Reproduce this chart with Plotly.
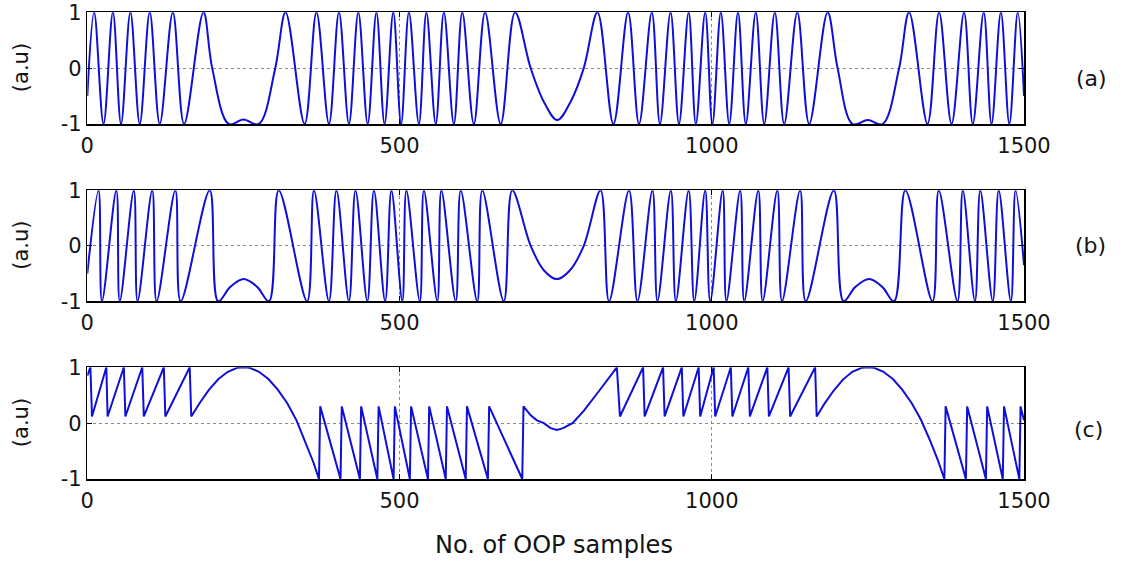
import plotly.graph_objects as go

# ---------------- data ----------------
# Panel (a): extrema / read points of the cosine-like signal
a_x = [0, 11, 26, 41, 54, 69, 84, 100, 116, 137, 155, 186, 200, 226.5, 250, 274.5, 301,
       317.5, 348, 367, 387, 403, 419, 434, 449, 463, 476, 490, 502.5, 515, 531, 543, 558,
       571, 587, 600.5, 619, 637, 662, 685, 710, 731, 752.5, 774, 795, 817, 842.5, 866, 883.5,
       904, 917, 934, 947.5, 963, 974.5, 989.5, 1001, 1014.5, 1028, 1042, 1054.5, 1070.5, 1084,
       1101, 1116, 1137, 1156, 1185.5, 1201.5, 1225.5, 1250, 1273.5, 1300, 1316, 1345.5,
       1364, 1384, 1404, 1418, 1435.5, 1448, 1463, 1476.5, 1490, 1500]
a_y = [-0.5, 1, -1, 1, -1, 1, -1, 1, -1, 1, -1, 1, 0, -1, -0.92, -1, 0,
       1, -1, 1, -1, 1, -1, 1, -1, 1, -1, 1, -1, 1, -1, 1, -1,
       1, -1, 1, -1, 1, -1, 1, 0, -0.6, -0.93, -0.6, 0, 1, -1, 1, -1,
       1, -1, 1, -1, 1, -1, 1, -1, 1, -1, 1, -1, 1, -1,
       1, -1, 1, -1, 1, 0, -1, -0.93, -1, 0, 1, -1,
       1, -1, 1, -1, 1, -1, 1, -1, 1, -0.5]

# Panel (b)
b_x = [0, 18, 23.5, 46.5, 52, 74.5, 80.5, 104, 111, 141, 149.5, 196, 209.5, 229, 250.5, 272,
       291, 306.5, 352, 363, 387, 399, 419, 429.5, 448.5, 459, 477, 487, 504.5, 511, 532.5,
       539, 560.5, 567, 590, 598, 624.5, 632.5, 667, 680.5, 710, 731, 752, 773, 795, 822,
       835.5, 867.5, 881, 905, 913, 934.5, 942.5, 963, 972, 989.5, 997.5, 1017.5, 1023.5,
       1045.5, 1052, 1074.5, 1081.5, 1105, 1112.5, 1141.5, 1150.5, 1195.5, 1211, 1230, 1252,
       1273, 1292, 1310, 1353.5, 1363.5, 1393.5, 1402, 1421.5, 1430, 1450, 1459.5, 1479,
       1486.5, 1500]
b_y = [-0.5, 1, -1, 1, -1, 1, -1, 1, -1, 1, -1, 1, -1, -0.74, -0.6, -0.74,
       -1, 1, -1, 1, -1, 1, -1, 1, -1, 1, -1, 1, -1, 1, -1,
       1, -1, 1, -1, 1, -1, 1, -1, 1, 0, -0.44, -0.6, -0.44, 0, 1,
       -1, 1, -1, 1, -1, 1, -1, 1, -1, 1, -1, 1, -1,
       1, -1, 1, -1, 1, -1, 1, -1, 1, -1, -0.74, -0.6,
       -0.74, -1, 1, -1, 1, -1, 1, -1, 1, -1, 1, -1,
       1, -0.35]

# Panel (c)
c_x = [0, 5, 7.5, 30.5, 32.5, 58.5, 61, 88, 90.5, 122.5, 125, 164, 166.5,
       180, 195, 210, 225, 240, 250, 260, 275, 290, 305, 320, 335, 350, 362, 371,
       373, 405.5, 407.5, 436.5, 438.5, 464.5, 466.5, 490.5, 492.5, 516.5, 518.5, 545.5,
       547.5, 574, 576, 606, 608, 641.5, 643.5, 696.5, 698.5,
       710, 720, 731, 742, 752, 762, 777, 795, 817, 835, 848,
       853, 890, 892.5, 922, 924.5, 952, 954.5, 979, 981.5, 1003, 1005.5, 1030.5, 1033,
       1058.5, 1061, 1089, 1091.5, 1123, 1125.5, 1165.5, 1168,
       1180, 1195, 1210, 1225, 1240, 1250, 1260, 1275, 1290, 1305, 1320, 1335, 1350, 1362,
       1372.5, 1374.5, 1407, 1409, 1439, 1441, 1466, 1468, 1492.5, 1494.5, 1500]
c_y = [0.85, 1, 0.12, 1, 0.12, 1, 0.12, 1, 0.12, 1, 0.12, 1, 0.12,
       0.36, 0.6, 0.79, 0.92, 0.99, 1.0, 0.99, 0.92, 0.79, 0.6, 0.36, 0.05, -0.35, -0.7, -1,
       0.3, -1, 0.3, -1, 0.3, -1, 0.3, -1, 0.3, -1, 0.3, -1,
       0.3, -1, 0.3, -1, 0.3, -1, 0.3, -1, 0.3,
       0.14, 0.05, 0.0, -0.09, -0.12, -0.09, 0.0, 0.22, 0.54, 0.8, 1.0,
       0.12, 1, 0.12, 1, 0.12, 1, 0.12, 1, 0.12, 1, 0.12, 1, 0.12,
       1, 0.12, 1, 0.12, 1, 0.12, 1, 0.12,
       0.34, 0.58, 0.78, 0.92, 0.99, 1.0, 0.99, 0.92, 0.79, 0.6, 0.36, 0.06, -0.32, -0.66,
       -1, 0.3, -1, 0.3, -1, 0.3, -1, 0.3, -1, 0.3, 0.05]

x_ticks = [0, 500, 1000, 1500]
x_tick_text = ["0", "500", "1000", "1500"]
y_ticks = [-1, 0, 1]
y_tick_text = ["-1", "0", "1"]
panel_labels = ["(a)", "(b)", "(c)"]
y_title = "(a.u)"
x_title = "No. of OOP samples"

# ---------------- figure ----------------
W, H = 1124, 562
LINE = "rgb(15,15,215)"
FONT = "DejaVu Sans, Arial, sans-serif"
TXT = "#141414"


def px_x(px):
    return px / W


def px_y(py):
    return 1 - py / H


x_dom = [px_x(87.3), px_x(1024)]
panels_px = [(12.3, 124), (190.3, 301.3), (367.3, 479)]
y_doms = [[px_y(b), px_y(t)] for t, b in panels_px]

fig = go.Figure()
series = [(a_x, a_y, "spline"), (b_x, b_y, "spline"), (c_x, c_y, "linear")]
for i, (xs, ys, shp) in enumerate(series):
    sfx = "" if i == 0 else str(i + 1)
    fig.add_trace(go.Scatter(x=xs, y=ys, mode="lines",
                             line=dict(color=LINE, width=2, shape=shp),
                             xaxis="x" + sfx, yaxis="y" + sfx, showlegend=False,
                             hoverinfo="skip"))

axis_common = dict(
    ticks="inside", ticklen=5, tickwidth=1, tickcolor="black",
    showline=True, linecolor="black", linewidth=1.5, mirror="ticks",
    showgrid=True, gridcolor="#8a8a8a", griddash="dot", gridwidth=1,
    zeroline=False, automargin=False, ticklabeloverflow="allow",
    tickfont=dict(family=FONT, size=21, color=TXT),
)

layout = dict(width=W, height=H, margin=dict(l=0, r=0, t=0, b=0, autoexpand=False),
              paper_bgcolor="white", plot_bgcolor="white", showlegend=False)

for i in range(3):
    sfx = "" if i == 0 else str(i + 1)
    layout["xaxis" + sfx] = dict(axis_common, domain=x_dom, range=[0, 1500],
                                 tickvals=x_ticks, ticktext=x_tick_text,
                                 anchor="y" + sfx, ticklabelstandoff=2)
    layout["yaxis" + sfx] = dict(axis_common, domain=y_doms[i], range=[-1, 1],
                                 tickvals=y_ticks, ticktext=y_tick_text,
                                 anchor="x" + sfx, ticklabelstandoff=0)

fig.update_layout(**layout)

ann = []
for i, (t, b) in enumerate(panels_px):
    ann.append(dict(x=px_x(21), y=px_y((t + b) / 2), xref="paper", yref="paper",
                    text=y_title, textangle=-90, showarrow=False,
                    xanchor="center", yanchor="middle",
                    font=dict(family=FONT, size=21, color=TXT)))
label_pos = [(1091, 78), (1090, 245), (1088, 429)]
for lab, (px, py) in zip(panel_labels, label_pos):
    ann.append(dict(x=px_x(px), y=px_y(py), xref="paper", yref="paper", text=lab,
                    showarrow=False, xanchor="center", yanchor="middle",
                    font=dict(family=FONT, size=22, color=TXT)))
ann.append(dict(x=px_x(554), y=px_y(545), xref="paper", yref="paper", text=x_title,
                showarrow=False, xanchor="center", yanchor="middle",
                font=dict(family=FONT, size=24, color=TXT)))
fig.update_layout(annotations=ann)

# remove the default 8px page margin so the figure fills the window exactly
fig.write_html("out.html",
               config={"displayModeBar": False, "staticPlot": True},
               post_script="document.body.style.margin='0';document.body.style.overflow='hidden';")
